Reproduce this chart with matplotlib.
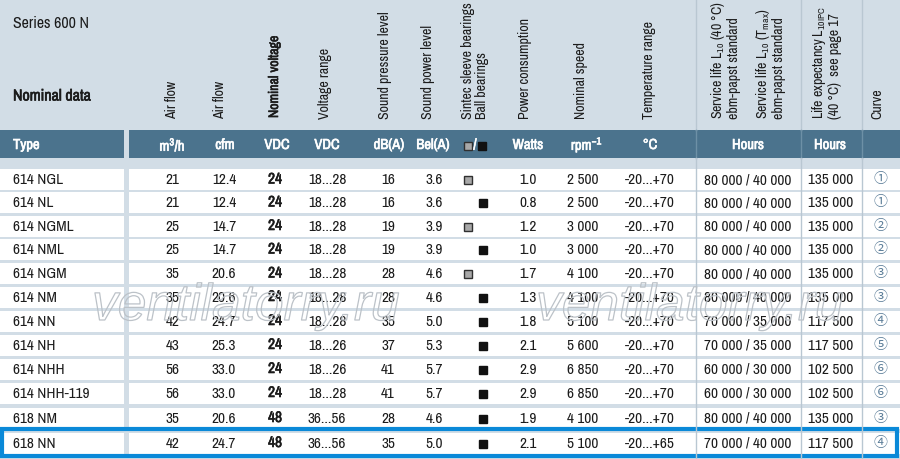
import matplotlib
matplotlib.use("Agg")
import matplotlib.pyplot as plt
import matplotlib.patheffects as pe
from matplotlib import font_manager

# table values
types = ["614 NGL", "614 NL", "614 NGML", "614 NML", "614 NGM", "614 NM",
         "614 NN", "614 NH", "614 NHH", "614 NHH-119", "618 NM", "618 NN"]
airflow_m3h = [21, 21, 25, 25, 35, 35, 42, 43, 56, 56, 35, 42]
airflow_cfm = [12.4, 12.4, 14.7, 14.7, 20.6, 20.6, 24.7, 25.3, 33.0, 33.0, 20.6, 24.7]
nominal_voltage = [24, 24, 24, 24, 24, 24, 24, 24, 24, 24, 48, 48]
voltage_range = ["18...28", "18...28", "18...28", "18...28", "18...28", "18...28",
                 "18...28", "18...26", "18...26", "18...28", "36...56", "36...56"]
sound_pressure = [16, 16, 19, 19, 28, 28, 35, 37, 41, 41, 28, 35]
sound_power = [3.6, 3.6, 3.9, 3.9, 4.6, 4.6, 5.0, 5.3, 5.7, 5.7, 4.6, 5.0]
bearing = ["S", "B", "S", "B", "S", "B", "B", "B", "B", "B", "B", "B"]
power = [1.0, 0.8, 1.2, 1.0, 1.7, 1.3, 1.8, 2.1, 2.9, 2.9, 1.9, 2.1]
speed = [2500, 2500, 3000, 3000, 4100, 4100, 5100, 5600, 6850, 6850, 4100, 5100]
temp_range = ["-20...+70"] * 11 + ["-20...+65"]
service_life = ["80 000 / 40 000", "80 000 / 40 000", "80 000 / 40 000", "80 000 / 40 000",
                "80 000 / 40 000", "80 000 / 40 000", "70 000 / 35 000", "70 000 / 35 000",
                "60 000 / 30 000", "60 000 / 30 000", "80 000 / 40 000", "70 000 / 40 000"]
life_expectancy = [135000, 135000, 135000, 135000, 135000, 135000,
                   117500, 117500, 102500, 102500, 135000, 117500]
curve = [1, 1, 2, 2, 3, 3, 4, 5, 6, 6, 3, 4]

row_y = [180.5, 203.5, 227, 250.5, 274.5, 298, 322, 346, 370, 394, 419, 444]

BG = "#d2dde6"
BAND = "#4b738d"
TXT = "#1b1b1b"


def pick_fonts():
    # the catalogue uses a condensed grotesk; look for a narrow face with a bold cut
    narrow = [f for f in font_manager.fontManager.ttflist
              if ("Narrow" in f.name or "Condensed" in f.name) and f.style == "normal"]

    def w(f):
        try:
            return int(f.weight)
        except (TypeError, ValueError):
            return {"bold": 700, "semibold": 600, "medium": 500}.get(str(f.weight), 400)

    reg = sorted([f for f in narrow if w(f) == 400], key=lambda f: f.name)
    if not reg:
        base = font_manager.FontProperties(family=["Liberation Sans", "DejaVu Sans"])
        bold = font_manager.FontProperties(family=["Liberation Sans", "DejaVu Sans"],
                                           weight="bold")
        return base, bold, 0.84, True
    r = reg[0]
    root = r.name.split(" Condensed")[0].split(" Narrow")[0]
    bolds = [f for f in narrow if w(f) >= 600 and f.name.startswith(root)]
    bolds.sort(key=lambda f: abs(w(f) - 700))
    base = font_manager.FontProperties(fname=r.fname)
    if bolds:
        return base, font_manager.FontProperties(fname=bolds[0].fname), 1.0, True
    return base, base, 1.0, False


REG, BOLD, S, HAS_BOLD = pick_fonts()
plt.rcParams["mathtext.default"] = "regular"

ROW_FS = 11 * S
HEAD_FS = 10 * S
UNIT_FS = 10.5 * S


def fp(bold, size):
    f = (BOLD if bold else REG).copy()
    f.set_size(size)
    return f


def put(x, y, s, bold=False, size=ROW_FS, color=TXT, **kw):
    # without a real bold cut, thicken the glyphs with a stroke of the same colour
    if bold and not HAS_BOLD:
        kw["path_effects"] = [pe.withStroke(linewidth=0.45, foreground=color)]
    return ax.text(x, y, s, fontproperties=fp(bold, size), color=color, **kw)


def sp(v):
    return f"{v:,}".replace(",", " ")


fig = plt.figure(figsize=(9, 4.6), dpi=100, facecolor=BG)
ax = fig.add_axes([0, 0, 1, 1])
ax.set_xlim(0, 900)
ax.set_ylim(460, 0)
ax.axis("off")
ax.set_facecolor(BG)

# header band
ax.add_patch(plt.Rectangle((0, 131), 124, 28, color=BAND, lw=0))
ax.add_patch(plt.Rectangle((129, 131), 771, 28, color=BAND, lw=0))

# white row cells
for y in row_y:
    ax.add_patch(plt.Rectangle((0, y - 10.5), 124, 21, color="white", lw=0))
    ax.add_patch(plt.Rectangle((129, y - 10.5), 771, 21, color="white", lw=0))

# vertical separators on the right
for x in [696, 801, 862]:
    ax.plot([x, x], [0, 131], color="#b9c7d2", lw=1)
    ax.plot([x, x], [131, 159], color="#6d90a6", lw=1)
    ax.plot([x, x], [159, 460], color="#b9c7d2", lw=1)

# titles
ttl = 11.5 * (S + 1) / 2
put(13, 23, "Series 600 N", size=ttl, va="center", ha="left")
put(13, 97, "Nominal data", bold=True, size=ttl, va="center", ha="left")

# rotated column headers
rot_heads = [
    (172.5, "Air flow", False),
    (220, "Air flow", False),
    (274, "Nominal voltage", True),
    (325, "Voltage range", False),
    (385, "Sound pressure level", False),
    (428, "Sound power level", False),
    (475, "Sintec sleeve bearings\nBall bearings", False),
    (525, "Power consumption", False),
    (581, "Nominal speed", False),
    (649, "Temperature range", False),
    (725, "Service life L$_{10}$ (40 °C)\nebm-papst standard", False),
    (770, "Service life L$_{10}$ (T$_{max}$)\nebm-papst standard", False),
    (826, "Life expectancy L$_{10IPC}$\n(40 °C)  see page 17", False),
    (877, "Curve", False),
]
for x, label, b in rot_heads:
    put(x, 119, label, bold=b, size=HEAD_FS, rotation=90, ha="center", va="bottom",
        linespacing=0.95, multialignment="left")

# units row in the band
put(13, 146, "Type", bold=True, size=UNIT_FS, color="white", ha="left", va="center")
units = [(172.5, "m$^3$/h"), (225, "cfm"), (277, "VDC"), (327, "VDC"),
         (389, "dB(A)"), (433, "Bel(A)"), (528, "Watts"), (587, "rpm$^{-1}$"),
         (650, "°C"), (748, "Hours"), (830, "Hours")]
for x, u in units:
    put(x, 146, u, bold=True, size=UNIT_FS, color="white", ha="center", va="center")
ax.plot([468], [146.5], marker="s", ms=5.5, mfc="#a8a8a8", mec="#303030", mew=1)
put(475, 146, "/", bold=True, size=UNIT_FS, color="white", ha="center", va="center")
ax.plot([482], [146.5], marker="s", ms=6, mfc="#111111", mec="#111111")

# data rows
for i, y in enumerate(row_y):
    put(13, y, types[i], ha="left", va="center")
    put(172.5, y, str(airflow_m3h[i]), ha="center", va="center")
    put(224, y, f"{airflow_cfm[i]:.1f}", ha="center", va="center")
    put(275, y, str(nominal_voltage[i]), bold=True, ha="center", va="center")
    put(327, y, voltage_range[i], ha="center", va="center")
    put(388, y, str(sound_pressure[i]), ha="center", va="center")
    put(434, y, f"{sound_power[i]:.1f}", ha="center", va="center")
    if bearing[i] == "S":
        ax.plot([468], [y + 0.5], marker="s", ms=5.5, mfc="#a8a8a8", mec="#303030", mew=1)
    else:
        ax.plot([483], [y + 0.5], marker="s", ms=6, mfc="#111111", mec="#111111")
    put(528, y, f"{power[i]:.1f}", ha="center", va="center")
    put(583, y, sp(speed[i]), ha="center", va="center")
    put(650, y, temp_range[i], ha="center", va="center")
    put(748, y, service_life[i], ha="center", va="center")
    put(831, y, sp(life_expectancy[i]), ha="center", va="center")
    ax.text(880, y - 1, chr(0x245F + curve[i]), fontsize=10, color="#5b7d98",
            ha="center", va="center", family=["Noto Sans CJK JP", "DejaVu Sans"])

# highlighted last row
ax.add_patch(plt.Rectangle((2, 430), 895, 27, fill=False, ec="#0a89d8", lw=3))

# watermark
for x in [246, 690]:
    ax.text(x, 321, "ventilatorry.ru", fontsize=37, style="italic", ha="center",
            va="baseline", color=(1, 1, 1, 0), family="Liberation Sans",
            path_effects=[pe.withStroke(linewidth=0.9, foreground="#bcc2c8")])

fig.savefig("out.png", dpi=100, facecolor=BG)
